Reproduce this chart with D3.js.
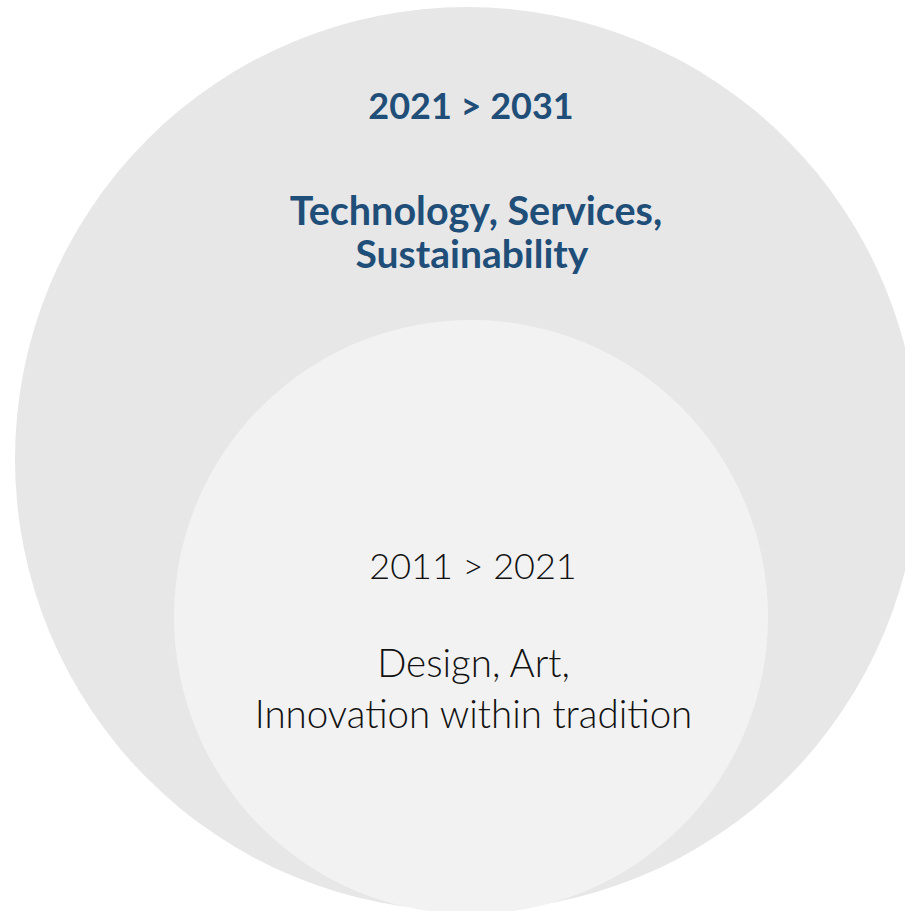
<!DOCTYPE html>
<html><head><meta charset="utf-8">
<script src="https://cdn.jsdelivr.net/npm/d3@7"></script>
<style>html,body{margin:0;padding:0;background:#fff;overflow:hidden}</style>
</head><body>
<svg id="chart" width="905" height="911"></svg>
<script>
// Data
const periods = ["2021 > 2031", "2011 > 2021"];
const themes = [["Technology, Services,", "Sustainability"], ["Design, Art,", "Innovation within tradition"]];
const sizes = [452, 297];           // relative circle sizes (radius units)
const fills = ["#e7e7e7", "#f2f2f2"];

const svg = d3.select("#chart");
const r = d3.scaleLinear().domain([0, 452]).range([0, 452]);

const centers = [[467, 459], [471, 617]];

svg.selectAll("circle").data(sizes).join("circle")
  .attr("cx", (d, i) => centers[i][0])
  .attr("cy", (d, i) => centers[i][1])
  .attr("r", d => r(d))
  .attr("fill", (d, i) => fills[i]);

// Outer text (bold, dark blue)
const g1 = svg.append("g").attr("font-family", "Lato, 'Open Sans', sans-serif")
  .attr("text-anchor", "middle").attr("fill", "#1f4e79").attr("font-weight", 700);
g1.append("text").attr("x", 471).attr("y", 119).attr("font-size", 36).text(periods[0]);
themes[0].forEach((t, i) => g1.append("text").attr("x", i === 0 ? 476 : 472).attr("y", 225 + i * 43).attr("font-size", i === 0 ? 39.5 : 39).text(t));

// Inner text (light, black)
const g2 = svg.append("g").attr("font-family", "Lato, 'Open Sans', sans-serif")
  .attr("text-anchor", "middle").attr("fill", "#111").attr("font-weight", 300);
g2.append("text").attr("x", 473).attr("y", 579).attr("font-size", 36).text(periods[1]);
themes[1].forEach((t, i) => g2.append("text").attr("x", 473.5).attr("y", 677 + i * 51).attr("font-size", 38.5).text(t));
</script>
</body></html>
